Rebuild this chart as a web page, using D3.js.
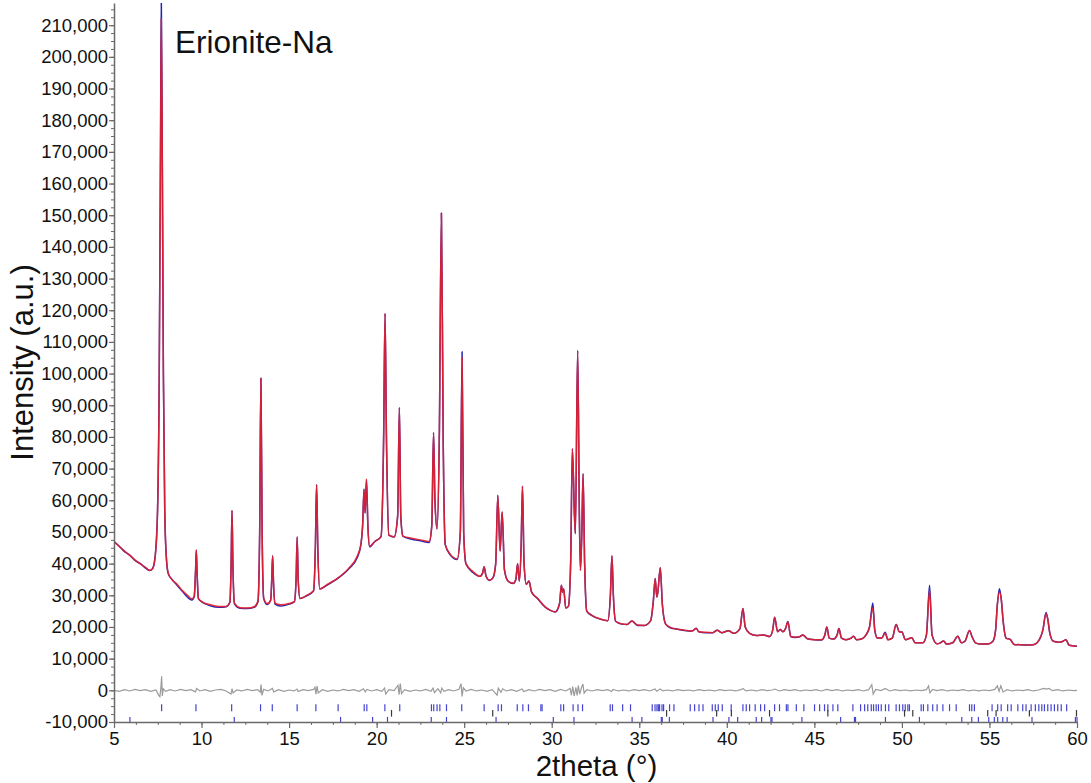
<!DOCTYPE html>
<html>
<head>
<meta charset="utf-8">
<script src="https://cdn.jsdelivr.net/npm/d3@7"></script>
<style>
  html, body { margin: 0; padding: 0; background: #fff; }
  svg { display: block; font-family: "Liberation Sans", Arial, sans-serif; }
</style>
</head>
<body>
<svg id="chart" width="1091" height="783"></svg>
<script>
// ---- Powder pattern of Erionite-Na (2theta in degrees, intensity in counts) ----
const twoTheta = [
  5.00, 5.30, 5.60, 5.90, 6.20, 6.50, 6.80, 7.05,
  7.20, 7.35, 7.48, 7.58, 7.66, 7.70, 7.75, 7.82,
  7.90, 8.00, 8.10, 8.30, 8.60, 8.90, 9.20, 9.45,
  9.58, 9.66, 9.70, 9.74, 9.82, 10.00, 10.50, 11.00,
  11.40, 11.62, 11.69, 11.74, 11.79, 11.88, 12.20, 12.60,
  13.00, 13.22, 13.32, 13.39, 13.46, 13.55, 13.75, 13.95,
  14.01, 14.06, 14.11, 14.20, 14.50, 15.00, 15.30, 15.40,
  15.46, 15.52, 15.62, 16.00, 16.40, 16.50, 16.57, 16.64,
  16.75, 17.20, 17.80, 18.40, 18.90, 19.10, 19.20, 19.28,
  19.34, 19.42, 19.50, 19.60, 19.90, 20.25, 20.40, 20.48,
  20.56, 20.70, 21.00, 21.20, 21.30, 21.38, 21.50, 22.00,
  22.50, 23.00, 23.15, 23.25, 23.33, 23.45, 23.58, 23.70,
  23.80, 23.92, 24.20, 24.60, 24.78, 24.88, 24.97, 25.10,
  25.50, 25.90, 26.05, 26.14, 26.25, 26.45, 26.65, 26.80,
  26.92, 27.05, 27.17, 27.30, 27.50, 27.80, 27.95, 28.05,
  28.15, 28.25, 28.33, 28.42, 28.55, 28.70, 28.85, 29.20,
  29.60, 29.90, 30.20, 30.45, 30.55, 30.62, 30.68, 30.80,
  30.95, 31.08, 31.18, 31.30, 31.35, 31.48, 31.58, 31.64,
  31.72, 31.79, 31.88, 32.00, 32.30, 32.80, 33.20, 33.35,
  33.44, 33.52, 33.65, 34.00, 34.30, 34.58, 34.90, 35.30,
  35.65, 35.80, 35.91, 36.00, 36.06, 36.20, 36.32, 36.50,
  36.80, 37.20, 37.60, 38.00, 38.25, 38.40, 38.80, 39.20,
  39.45, 39.70, 40.10, 40.40, 40.75, 40.92, 41.05, 41.30,
  41.70, 42.10, 42.45, 42.62, 42.73, 42.90, 43.05, 43.20,
  43.35, 43.49, 43.65, 43.90, 44.15, 44.34, 44.60, 45.00,
  45.40, 45.60, 45.71, 45.85, 46.10, 46.30, 46.40, 46.55,
  46.80, 47.10, 47.24, 47.40, 47.70, 47.95, 48.15, 48.34,
  48.45, 48.60, 48.85, 49.04, 49.20, 49.45, 49.67, 49.85,
  50.00, 50.20, 50.57, 50.75, 51.20, 51.40, 51.58, 51.72,
  52.00, 52.20, 52.38, 52.55, 52.90, 53.19, 53.40, 53.60,
  53.86, 54.00, 54.20, 54.50, 54.90, 55.20, 55.35, 55.45,
  55.57, 55.68, 55.78, 55.95, 56.20, 56.40, 57.00, 57.50,
  57.85, 58.05, 58.23, 58.33, 58.45, 58.65, 59.00, 59.20,
  59.37, 59.55, 60.00
];

// observed counts
const yObs = [
  47000, 45500, 43800, 42700, 41000, 40000, 38600, 37800,
  38400, 42300, 55500, 97000, 176000, 219000, 178000, 101000,
  56000, 41200, 36800, 35100, 33200, 31300, 29400, 28500,
  29600, 38000, 44200, 38000, 29000, 28000, 26700, 26200,
  26400, 27800, 40000, 56800, 40000, 27300, 25900, 25800,
  26200, 28000, 50000, 98500, 50000, 29000, 27100, 28500,
  35000, 42500, 34000, 27200, 26600, 27200, 28000, 35000,
  48400, 35000, 29000, 29800, 31400, 45000, 65000, 45000,
  32000, 33300, 35400, 38300, 42000, 46000, 52000, 63600,
  56000, 66400, 52000, 45300, 47000, 48500, 80000, 119000,
  80000, 49000, 48400, 55000, 89300, 55000, 48700, 47700,
  47200, 46700, 52000, 81400, 60000, 51000, 80000, 150700,
  80000, 46000, 42800, 41300, 50000, 106900, 50000, 40000,
  37200, 36000, 37000, 39000, 36000, 34700, 35600, 40000,
  61600, 44000, 56300, 38000, 34500, 33700, 35000, 40000,
  34500, 45000, 64400, 40000, 33500, 34500, 31000, 28900,
  26400, 25300, 24700, 27500, 33200, 31000, 32100, 26000,
  26500, 40000, 76300, 55000, 49500, 107300, 55000, 37900,
  50000, 68400, 40000, 25000, 23600, 22400, 22000, 30000,
  42400, 30000, 21800, 20900, 20800, 21900, 20500, 20500,
  22000, 28000, 35300, 29500, 31000, 38700, 27000, 21000,
  19700, 19300, 18900, 18700, 19600, 18500, 18200, 18200,
  19000, 18200, 18800, 18000, 19500, 25800, 20000, 18000,
  17300, 17500, 17000, 19000, 23100, 18500, 19200, 18500,
  19500, 21700, 17000, 16700, 16900, 17500, 16300, 16000,
  15900, 17500, 20000, 16500, 16200, 17500, 19500, 16500,
  16000, 16500, 17100, 16000, 16200, 17500, 20000, 27600,
  19000, 16500, 16500, 18300, 16000, 16500, 20800, 18500,
  18400, 16000, 16600, 15000, 15000, 17500, 33200, 17500,
  14700, 15000, 15600, 14600, 15000, 17100, 15000, 15500,
  18900, 17000, 15000, 14600, 14600, 15500, 19000, 27000,
  32100, 28500, 22000, 16500, 16000, 14500, 14300, 14400,
  16000, 19000, 24600, 22500, 18000, 15500, 15200, 15500,
  16000, 14200, 13900
];

// calculated counts
const yCalc = [
  47000, 45400, 44000, 42600, 41200, 39900, 38800, 37900,
  38400, 42000, 55000, 95000, 172000, 212000, 176000, 100000,
  56000, 41000, 37000, 35000, 33500, 31500, 30000, 28900,
  29600, 38000, 44400, 38000, 29000, 28000, 27000, 26500,
  26500, 27800, 40000, 56800, 40000, 27500, 26100, 26000,
  26400, 28000, 50000, 98500, 50000, 29000, 27400, 28500,
  35000, 42500, 34000, 27500, 27000, 27400, 28000, 35000,
  48400, 35000, 29000, 30000, 31500, 45000, 65000, 45000,
  32000, 33500, 35500, 38500, 42500, 46000, 52000, 63300,
  56000, 66700, 52000, 45500, 47000, 48500, 80000, 119000,
  80000, 49000, 48500, 55000, 89300, 55000, 48700, 48000,
  47500, 47000, 52000, 81400, 60000, 51000, 80000, 150700,
  80000, 46000, 43000, 41500, 50000, 105000, 50000, 40000,
  37500, 36000, 37000, 38900, 36000, 34800, 35600, 40000,
  61600, 44000, 56300, 38000, 34500, 33800, 35000, 40000,
  34500, 45000, 64400, 40000, 33500, 34500, 31000, 29000,
  26500, 25300, 24800, 27500, 33200, 31000, 32100, 26000,
  26500, 40000, 76300, 55000, 49500, 107300, 55000, 37900,
  50000, 68400, 40000, 25000, 23700, 22500, 22000, 30000,
  42400, 30000, 21800, 21000, 20800, 21900, 20600, 20500,
  22000, 28000, 35300, 29500, 31000, 38700, 27000, 21000,
  19800, 19300, 19000, 18700, 19500, 18500, 18300, 18200,
  19000, 18200, 18800, 18000, 19500, 25800, 20000, 18000,
  17300, 17500, 17000, 19000, 23100, 18500, 19200, 18500,
  19500, 21600, 17000, 16800, 16900, 17500, 16300, 16000,
  16000, 17500, 20000, 16500, 16200, 17500, 19500, 16500,
  16000, 16500, 17100, 16000, 16200, 17500, 20000, 26100,
  19000, 16500, 16500, 18100, 16000, 16500, 20800, 18500,
  18400, 16000, 16600, 15000, 15000, 17500, 31600, 17500,
  14700, 15000, 15600, 14600, 15000, 17100, 15000, 15500,
  18900, 17000, 15000, 14600, 14600, 15500, 19000, 27000,
  31000, 28500, 22000, 16500, 16000, 14500, 14300, 14400,
  16000, 19000, 24200, 22500, 18000, 15500, 15200, 15500,
  16000, 14200, 13900
];

// observed minus calculated
const diffTheta = [
  5.00, 5.30, 5.60, 5.90, 6.20, 6.50, 6.80, 7.10, 7.40, 7.55,
  7.62, 7.68, 7.72, 7.76, 7.82, 7.95, 8.20, 8.50, 8.80, 9.10,
  9.40, 9.65, 9.72, 9.90, 10.20, 10.50, 10.80, 11.10, 11.40, 11.68,
  11.74, 11.80, 12.00, 12.30, 12.60, 12.90, 13.20, 13.35, 13.40, 13.45,
  13.55, 13.80, 14.05, 14.12, 14.40, 14.70, 15.00, 15.30, 15.45, 15.52,
  15.80, 16.10, 16.40, 16.48, 16.53, 16.60, 16.66, 16.90, 17.20, 17.50,
  17.80, 18.10, 18.40, 18.70, 19.00, 19.25, 19.35, 19.45, 19.70, 20.00,
  20.30, 20.45, 20.52, 20.70, 21.00, 21.22, 21.28, 21.35, 21.42, 21.60,
  21.90, 22.20, 22.50, 22.80, 23.10, 23.22, 23.30, 23.50, 23.66, 23.72,
  23.85, 24.10, 24.40, 24.70, 24.82, 24.88, 24.95, 25.10, 25.40, 25.70,
  26.00, 26.30, 26.60, 26.88, 26.95, 27.10, 27.20, 27.40, 27.70, 28.00,
  28.30, 28.40, 28.70, 29.00, 29.30, 29.60, 29.90, 30.20, 30.50, 30.80,
  31.05, 31.12, 31.20, 31.28, 31.38, 31.45, 31.52, 31.60, 31.70, 31.78,
  31.85, 32.00, 32.30, 32.60, 32.90, 33.20, 33.42, 33.50, 33.80, 34.10,
  34.40, 34.70, 35.00, 35.30, 35.60, 35.90, 36.00, 36.20, 36.35, 36.60,
  36.90, 37.20, 37.50, 37.80, 38.10, 38.40, 38.70, 39.00, 39.30, 39.60,
  39.90, 40.20, 40.50, 40.80, 40.92, 41.10, 41.40, 41.70, 42.00, 42.30,
  42.60, 42.75, 43.00, 43.30, 43.60, 43.90, 44.20, 44.50, 44.80, 45.10,
  45.40, 45.70, 46.00, 46.30, 46.60, 46.90, 47.20, 47.50, 47.80, 48.10,
  48.28, 48.36, 48.50, 48.80, 49.05, 49.30, 49.60, 49.90, 50.20, 50.50,
  50.80, 51.10, 51.40, 51.52, 51.60, 51.75, 52.00, 52.30, 52.60, 52.90,
  53.20, 53.50, 53.80, 54.10, 54.40, 54.70, 55.00, 55.30, 55.45, 55.55,
  55.65, 55.78, 56.00, 56.30, 56.60, 56.90, 57.20, 57.50, 57.80, 58.10,
  58.25, 58.40, 58.60, 58.90, 59.20, 59.50, 59.80, 60.00
];
const diffCounts = [
  0, -300, 200, -200, 300, -100, 200, -300, 100, -1500,
  -2000, 1000, 4400, -1800, 500, -300, 200, -200, 300, -100,
  200, -500, 600, -200, 200, -300, 100, 300, -200, -1200,
  500, -800, 100, -200, 300, -100, 200, -600, 1800, -1600,
  300, -200, 600, -500, 200, -300, 100, -200, 400, -400,
  200, -100, 300, 1000, -1200, 1300, -800, 200, -300, 100,
  -200, 300, -100, 200, -300, 500, -500, 300, -200, 200,
  -300, 700, -1200, 200, -100, 1600, -1400, 2100, -1000, 200,
  -300, 100, -200, 300, -300, 700, -700, 500, -800, 700,
  -300, 200, -200, 300, 2100, -1900, 800, -200, 300, -200,
  100, -300, 200, -1500, 700, -600, 500, -200, 200, -300,
  400, -400, 200, -200, 300, -100, 200, -300, 300, -200,
  600, -1500, 1200, -1800, 900, -1600, 1500, -1200, 800, 2000,
  -900, 200, -200, 200, -100, 200, -400, 300, -200, 100,
  -200, 200, -100, 200, -200, 400, -300, 400, -200, 100,
  -200, 200, -100, 100, -200, 200, -100, 100, -200, 200,
  -100, 100, -200, 200, 600, -200, 100, -200, 200, -100,
  100, 400, -200, 200, -100, 200, -200, 100, -100, 200,
  -200, 300, -100, 200, -200, 100, -100, 200, -200, 200,
  1800, -1200, 300, -100, 600, -200, 200, -100, 100, -200,
  100, -100, 200, 1400, -800, 300, -100, 200, -200, 100,
  -100, 200, -200, 100, -200, 100, -100, 300, 1400, -300,
  1400, -500, 200, -200, 100, -100, 200, -200, 100, 600,
  400, 600, -100, 200, -200, 100, -100, 0
];

// Bragg reflection positions (2theta)
const reflectionsPhase1 = [
  7.72, 9.68, 11.72, 13.37, 14.04, 15.46, 16.53, 17.80, 19.29, 19.44,
  20.47, 21.32, 23.13, 23.26, 23.45, 23.61, 23.99, 24.86, 26.14, 26.94,
  27.13, 28.03, 28.35, 28.67, 29.38, 29.45, 30.52, 30.68, 31.22, 31.50,
  31.76, 33.34, 33.47, 34.05, 34.50, 35.74, 35.90, 36.01, 36.09, 36.16,
  36.30, 36.39, 36.73, 36.98, 37.91, 38.16, 38.41, 38.64, 39.17, 39.34,
  39.51, 39.74, 40.25, 40.92, 41.11, 41.30, 41.62, 41.93, 42.16, 42.73,
  43.01, 43.40, 43.49, 43.97, 44.40, 45.01, 45.30, 45.58, 45.77, 46.06,
  46.34, 47.20, 47.64, 47.87, 48.05, 48.25, 48.38, 48.53, 48.66, 48.82,
  49.06, 49.25, 49.67, 49.86, 50.05, 50.19, 50.34, 50.43, 51.10, 51.23,
  51.48, 51.76, 52.01, 52.34, 52.72, 53.10, 53.86, 53.99, 54.14, 55.15,
  55.47, 55.67, 56.04, 56.24, 56.62, 56.90, 57.09, 57.38, 57.62, 57.82,
  57.99, 58.14, 58.33, 58.52, 58.71, 58.90, 59.10, 59.41
];
const reflectionsPhase2 = [
  20.85, 26.63, 36.56, 39.42, 40.26, 42.44, 45.77, 50.15, 50.62, 54.90,
  55.38, 57.28, 59.97
];
const reflectionsPhase3 = [
  5.91, 11.87, 17.94, 19.77, 20.62, 23.12, 23.99, 26.82, 30.09, 31.27,
  34.59, 35.15, 36.26, 36.31, 36.72, 39.21, 40.12, 40.62, 41.68, 41.99,
  42.52, 42.58, 44.29, 46.50, 47.29, 47.35, 49.06, 51.00, 53.42, 53.99,
  54.37, 54.96, 55.28, 55.47, 55.76, 56.01, 57.43, 59.91, 60.00
];

// Axis ticks
const xTicks = [5, 10, 15, 20, 25, 30, 35, 40, 45, 50, 55, 60];
const yTicks = [-10000, 0, 10000, 20000, 30000, 40000, 50000, 60000, 70000, 80000,
  90000, 100000, 110000, 120000, 130000, 140000, 150000, 160000, 170000, 180000,
  190000, 200000, 210000];

// ---- drawing ----
const svg = d3.select("#chart");
const plot = { left: 114, right: 1077, top: 3, bottom: 722 };

const x = d3.scaleLinear().domain([5, 60]).range([plot.left, plot.right]);
const y = d3.scaleLinear().domain([-10000, 217000]).range([plot.bottom, plot.top]);

const fmt = d3.formatLocale({ decimal: ".", thousands: ",", grouping: [3], currency: ["", ""], minus: "-" }).format(",");

svg.append("defs").append("clipPath").attr("id", "plot-clip")
  .append("rect")
  .attr("x", plot.left).attr("y", plot.top)
  .attr("width", plot.right - plot.left + 4).attr("height", plot.bottom - plot.top);

const g = svg.append("g").attr("clip-path", "url(#plot-clip)");

// difference curve
const diffLine = d3.line().x((d, i) => x(diffTheta[i])).y(d => y(d));
g.append("path")
  .datum(diffCounts)
  .attr("d", diffLine)
  .attr("fill", "none")
  .attr("stroke", "#9b9b9b")
  .attr("stroke-width", 1.2);

// reflection markers
function drawMarks(positions, top, bottom, color) {
  g.append("g").selectAll("line")
    .data(positions)
    .join("line")
    .attr("x1", d => x(d)).attr("x2", d => x(d))
    .attr("y1", y(top)).attr("y2", y(bottom))
    .attr("stroke", color)
    .attr("stroke-width", 1.2);
}
drawMarks(reflectionsPhase1, -4400, -6600, "#4444d0");
drawMarks(reflectionsPhase2, -6200, -8300, "#3a3a3a");
drawMarks(reflectionsPhase3, -8400, -10000, "#4444d0");

// observed and calculated profiles
const profileLine = d3.line()
  .x((d, i) => x(twoTheta[i]))
  .y(d => y(d))
  .curve(d3.curveMonotoneX);

g.append("path")
  .datum(yObs)
  .attr("d", profileLine)
  .attr("fill", "none")
  .attr("stroke", "#2424b4")
  .attr("stroke-width", 1.5)
  .attr("stroke-linejoin", "round");

g.append("path")
  .datum(yCalc)
  .attr("d", profileLine)
  .attr("fill", "none")
  .attr("stroke", "#e5202a")
  .attr("stroke-width", 1.5)
  .attr("stroke-opacity", 0.9)
  .attr("stroke-linejoin", "round");

// axes
const axisColor = "#6a6a6a";
const labelFont = 18.5;

const yMinor = d3.axisLeft(y).tickValues(d3.range(-10000, 217001, 2500)).tickSize(3).tickFormat("");
svg.append("g").attr("transform", `translate(${plot.left},0)`).call(yMinor)
  .call(s => s.select(".domain").remove())
  .call(s => s.selectAll("line").attr("stroke", axisColor));

const xMinor = d3.axisBottom(x).tickValues(d3.range(5, 60.01, 1.25)).tickSize(3).tickFormat("");
svg.append("g").attr("transform", `translate(0,${plot.bottom})`).call(xMinor)
  .call(s => s.select(".domain").remove())
  .call(s => s.selectAll("line").attr("stroke", axisColor));

const yAxis = d3.axisLeft(y).tickValues(yTicks).tickFormat(fmt).tickSize(5).tickSizeOuter(0).tickPadding(1);
svg.append("g").attr("transform", `translate(${plot.left},0)`).call(yAxis)
  .call(s => s.select(".domain").attr("stroke", axisColor).attr("stroke-width", 1.5))
  .call(s => s.selectAll("line").attr("stroke", axisColor).attr("stroke-width", 1.2))
  .call(s => s.selectAll("text").attr("font-size", labelFont).attr("fill", "#111")
    .attr("font-family", '"Liberation Sans", Arial, sans-serif'));

const xAxis = d3.axisBottom(x).tickValues(xTicks).tickFormat(d3.format("d")).tickSize(6).tickSizeOuter(0).tickPadding(4);
svg.append("g").attr("transform", `translate(0,${plot.bottom})`).call(xAxis)
  .call(s => s.select(".domain").attr("stroke", axisColor).attr("stroke-width", 1.5))
  .call(s => s.selectAll("line").attr("stroke", axisColor).attr("stroke-width", 1.2))
  .call(s => s.selectAll("text").attr("font-size", labelFont).attr("fill", "#111")
    .attr("font-family", '"Liberation Sans", Arial, sans-serif'));

// titles
svg.append("text")
  .attr("x", (plot.left + plot.right) / 2 + 1)
  .attr("y", 776)
  .attr("text-anchor", "middle")
  .attr("font-size", 29.5)
  .attr("fill", "#111")
  .text("2theta (°)");

svg.append("text")
  .attr("transform", `translate(33,${(plot.top + plot.bottom) / 2}) rotate(-90)`)
  .attr("text-anchor", "middle")
  .attr("font-size", 31)
  .attr("fill", "#111")
  .text("Intensity (a.u.)");

svg.append("text")
  .attr("x", 175)
  .attr("y", 53)
  .attr("font-size", 31.5)
  .attr("fill", "#111")
  .text("Erionite-Na");
</script>
</body>
</html>
